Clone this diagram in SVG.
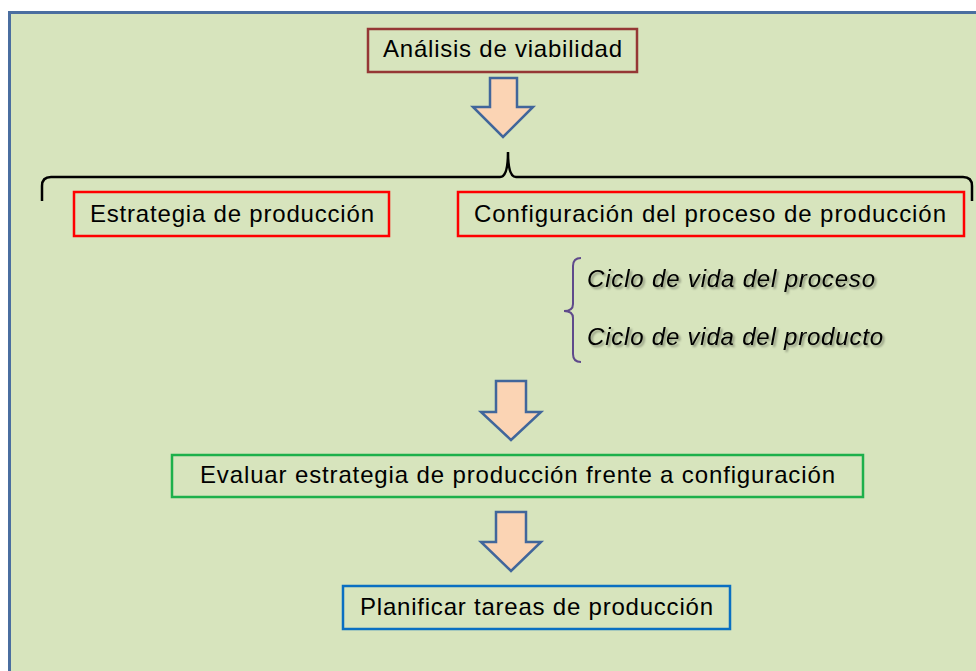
<svg xmlns="http://www.w3.org/2000/svg" width="976" height="671" viewBox="0 0 976 671">
<defs>
<style>
.box{fill:none;stroke-width:2.5}
.t{font-family:"Liberation Sans",Arial,sans-serif;font-size:24px;fill:#000}
.it{font-family:"Liberation Sans",Arial,sans-serif;font-size:24px;font-style:italic;fill:#000;filter:url(#sh)}
.arrow{fill:#fbd4b4;stroke:#41669b;stroke-width:2.5;stroke-linejoin:miter}
</style>
<filter id="sh" x="-10%" y="-30%" width="120%" height="160%">
<feDropShadow dx="2" dy="2" stdDeviation="1.2" flood-color="#000" flood-opacity="0.35"/>
</filter>
</defs>
<rect x="0" y="0" width="976" height="671" fill="#ffffff"/>
<rect x="9.5" y="12.5" width="980" height="680" fill="#d7e4bd" stroke="#4a6ea0" stroke-width="3"/>

<g id="connectors">
<polygon class="arrow" points="490,78 517,78 517,107 533,107 503,137 473,107 490,107"/>
<polygon class="arrow" points="496,381 526,381 526,412 541,412 511,440 481,412 496,412"/>
<polygon class="arrow" points="496,512 526,512 526,542 541,542 511,571 481,542 496,542"/>
<path d="M42 201 L42 186 Q42 177 51 177 L500 177 Q508 177 508 152 Q508 177 516 177 L963 177 Q972 177 972 186 L972 201" fill="none" stroke="#000" stroke-width="2.5"/>
<path d="M581 258 Q573 258 573 266 L573 304 Q573 311 564 311 Q573 311 573 318 L573 354 Q573 362 581 362" fill="none" stroke="#5f4a8b" stroke-width="2"/>
</g>

<g id="analisis">
<rect class="box" x="368" y="29" width="269" height="43" stroke="#953735"/>
<text class="t" x="383" y="57" textLength="239" lengthAdjust="spacing">Análisis de viabilidad</text>
</g>

<g id="estrategia">
<rect class="box" x="74" y="192" width="315" height="44" stroke="#ff0000"/>
<text class="t" x="90" y="222" textLength="284" lengthAdjust="spacing">Estrategia de producción</text>
</g>

<g id="configuracion">
<rect class="box" x="458" y="192" width="506" height="44" stroke="#ff0000"/>
<text class="t" x="474" y="222" textLength="472" lengthAdjust="spacing">Configuración del proceso de producción</text>
</g>

<g id="ciclos">
<text class="it" x="587" y="287" textLength="288" lengthAdjust="spacing">Ciclo de vida del proceso</text>
<text class="it" x="587" y="345" textLength="296" lengthAdjust="spacing">Ciclo de vida del producto</text>
</g>

<g id="evaluar">
<rect class="box" x="172" y="455" width="691" height="42" stroke="#1db04b"/>
<text class="t" x="200" y="483" textLength="635" lengthAdjust="spacing">Evaluar estrategia de producción frente a configuración</text>
</g>

<g id="planificar">
<rect class="box" x="343" y="586" width="387" height="43" stroke="#0a6fc2"/>
<text class="t" x="360" y="615" textLength="353" lengthAdjust="spacing">Planificar tareas de producción</text>
</g>
</svg>
